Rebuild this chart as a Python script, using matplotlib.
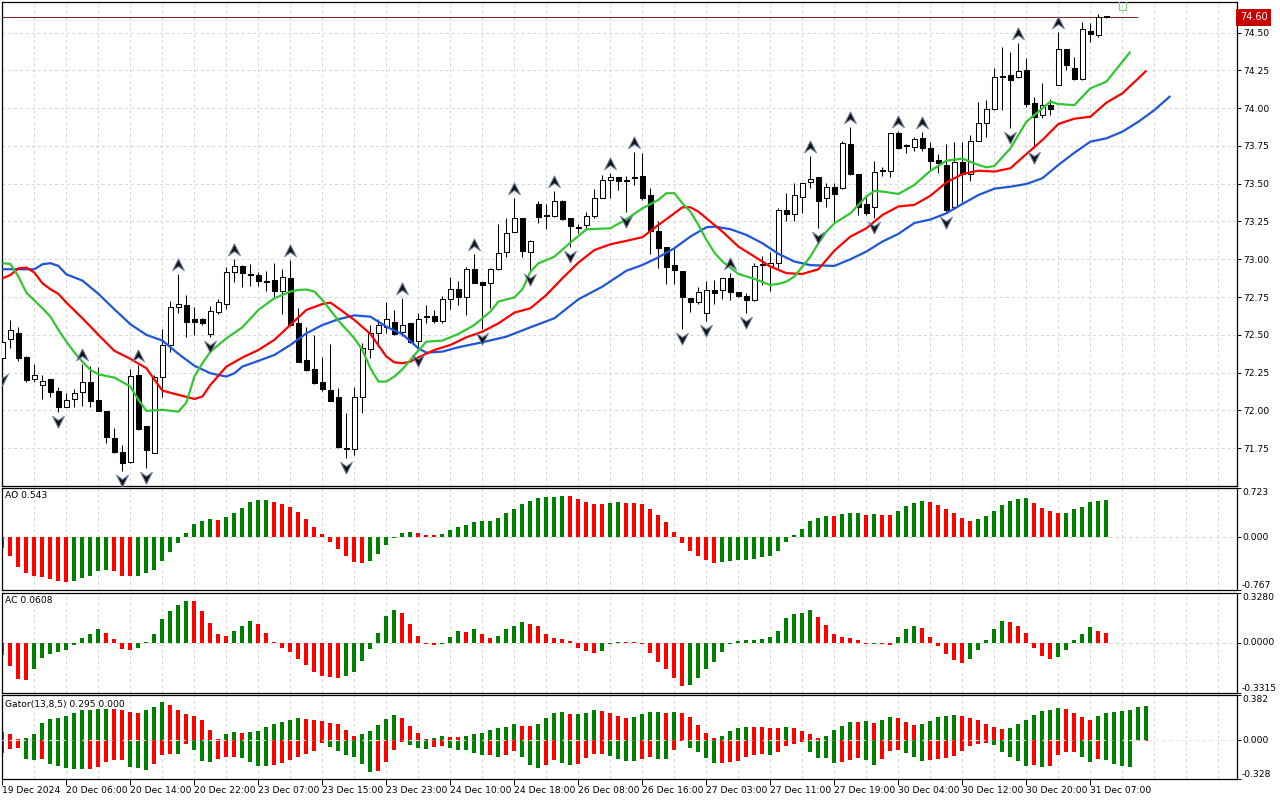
import matplotlib
matplotlib.use("Agg")
import matplotlib.pyplot as plt
import numpy as np
from matplotlib.path import Path
from matplotlib.patches import Rectangle
from matplotlib import transforms

plt.rcParams['font.family'] = ['DejaVu Sans']
plt.rcParams['font.size'] = 6.6

# ---- hourly candles, bar index 0..138 ----
opens = [72.35, 72.47, 72.51, 72.354, 72.206, 72.167, 72.209, 72.129, 72.023, 72.074,
         72.125, 72.19, 72.07, 71.997, 71.82, 71.726, 71.662, 72.233, 71.898, 71.721,
         72.224, 72.43, 72.683, 72.698, 72.603, 72.603, 72.503, 72.654, 72.705, 72.914,
         72.958, 72.90, 72.896, 72.853, 72.864, 72.793, 72.874, 72.577, 72.334, 72.273,
         72.191, 72.135, 72.091, 71.748, 71.743, 72.091, 72.407, 72.51, 72.555, 72.583,
         72.521, 72.576, 72.46, 72.618, 72.625, 72.592, 72.735, 72.801, 72.753, 72.934,
         72.85, 72.841, 72.934, 73.05, 73.183, 73.271, 73.05, 73.366, 73.287, 73.286,
         73.385, 73.275, 73.212, 73.227, 73.286, 73.407, 73.524, 73.542, 73.527, 73.54,
         73.551, 73.426, 73.188, 73.084, 72.963, 72.923, 72.742, 72.714, 72.643, 72.797,
         72.797, 72.874, 72.782, 72.758, 72.731, 72.96, 72.958, 72.978, 73.327, 73.30,
         73.41, 73.508, 73.543, 73.404, 73.481, 73.47, 73.763, 73.565, 73.364, 73.349,
         73.585, 73.587, 73.838, 73.752, 73.745, 73.805, 73.734, 73.657, 73.624, 73.348,
         73.641, 73.564, 73.782, 73.90, 73.992, 74.204, 74.219, 74.204, 74.252, 74.032,
         73.954, 74.021, 74.153, 74.389, 74.268, 74.19, 74.51, 74.483, 74.60]
highs = [72.50, 72.60, 72.55, 72.36, 72.306, 72.233, 72.21, 72.158, 72.114, 72.14,
         72.31, 72.295, 72.29, 71.997, 71.882, 71.772, 72.272, 72.30, 71.90, 72.235,
         72.539, 72.724, 72.903, 72.764, 72.687, 72.614, 72.69, 72.736, 72.947, 73.0,
         72.96, 72.967, 72.918, 72.92, 72.974, 72.934, 72.995, 72.676, 72.55, 72.50,
         72.351, 72.44, 72.151, 71.981, 72.158, 72.444, 72.565, 72.603, 72.72, 72.665,
         72.742, 72.581, 72.643, 72.698, 72.665, 72.757, 72.881, 72.859, 72.947, 73.035,
         72.852, 72.94, 73.231, 73.271, 73.403, 73.275, 73.125, 73.388, 73.366, 73.452,
         73.392, 73.275, 73.231, 73.315, 73.463, 73.555, 73.57, 73.545, 73.551, 73.712,
         73.701, 73.47, 73.256, 73.084, 73.084, 72.925, 72.745, 72.815, 72.859, 72.864,
         72.875, 72.907, 72.785, 72.775, 72.974, 73.022, 73.051, 73.338, 73.437, 73.503,
         73.503, 73.684, 73.547, 73.507, 73.507, 73.783, 73.878, 73.565, 73.41, 73.653,
         73.613, 73.835, 73.85, 73.761, 73.807, 73.84, 73.778, 73.696, 73.763, 73.778,
         73.778, 73.822, 74.042, 74.054, 74.263, 74.402, 74.373, 74.428, 74.329, 74.076,
         74.168, 74.058, 74.506, 74.39, 74.34, 74.572, 74.561, 74.622, 74.605]
lows = [72.27, 72.41, 72.33, 72.19, 72.19, 72.074, 72.09, 71.99, 72.02, 72.02,
        72.03, 72.025, 71.995, 71.783, 71.72, 71.60, 71.65, 71.87, 71.62, 71.72,
        72.092, 72.385, 72.643, 72.484, 72.50, 72.566, 72.488, 72.638, 72.672, 72.852,
        72.815, 72.82, 72.824, 72.79, 72.753, 72.636, 72.56, 72.32, 72.26, 72.175,
        72.131, 72.06, 71.75, 71.683, 71.705, 71.981, 72.35, 72.418, 72.51, 72.50,
        72.493, 72.444, 72.39, 72.576, 72.576, 72.58, 72.669, 72.698, 72.631, 72.84,
        72.537, 72.676, 72.93, 73.017, 73.18, 73.013, 72.929, 73.242, 73.20, 73.28,
        73.26, 73.079, 73.176, 73.194, 73.27, 73.405, 73.407, 73.458, 73.315, 73.49,
        73.393, 73.036, 72.941, 72.835, 72.835, 72.537, 72.654, 72.705, 72.59, 72.703,
        72.736, 72.731, 72.753, 72.643, 72.725, 72.83, 72.793, 72.94, 73.256, 73.256,
        73.305, 73.47, 73.205, 73.344, 73.249, 73.465, 73.56, 73.293, 73.293, 73.27,
        73.551, 73.547, 73.728, 73.701, 73.719, 73.719, 73.591, 73.573, 73.304, 73.33,
        73.381, 73.52, 73.78, 73.811, 73.99, 73.988, 73.866, 74.20, 74.01, 73.734,
        73.932, 73.954, 74.15, 74.252, 74.186, 74.186, 74.44, 74.468, 74.595]
closes = [72.45, 72.53, 72.35, 72.202, 72.233, 72.195, 72.125, 72.023, 72.07, 72.114,
          72.187, 72.065, 71.999, 71.823, 71.724, 71.655, 72.228, 71.878, 71.735, 72.224,
          72.434, 72.683, 72.702, 72.583, 72.585, 72.577, 72.658, 72.716, 72.914, 72.956,
          72.912, 72.895, 72.859, 72.851, 72.793, 72.881, 72.566, 72.323, 72.268, 72.184,
          72.14, 72.065, 71.756, 71.742, 72.087, 72.411, 72.51, 72.565, 72.603, 72.506,
          72.565, 72.451, 72.603, 72.622, 72.594, 72.735, 72.801, 72.753, 72.934, 72.841,
          72.83, 72.934, 73.039, 73.172, 73.271, 73.057, 73.123, 73.282, 73.285, 73.385,
          73.266, 73.222, 73.21, 73.286, 73.403, 73.524, 73.542, 73.52, 73.52, 73.546,
          73.408, 73.19, 73.077, 72.952, 72.93, 72.753, 72.714, 72.782, 72.797, 72.775,
          72.874, 72.786, 72.76, 72.731, 72.958, 72.97, 72.978, 73.327, 73.30, 73.423,
          73.503, 73.53, 73.388, 73.481, 73.43, 73.772, 73.565, 73.349, 73.305, 73.58,
          73.59, 73.833, 73.734, 73.75, 73.794, 73.734, 73.653, 73.635, 73.326, 73.641,
          73.564, 73.782, 73.899, 73.992, 74.204, 74.205, 74.186, 74.245, 74.027, 73.943,
          74.021, 73.992, 74.389, 74.285, 74.19, 74.521, 74.49, 74.605, 74.60]

fractal_up = [10, 17, 22, 29, 36, 50, 59, 64, 69, 76, 79, 91, 101, 106, 112, 115, 127, 132]
fractal_down = [0, 7, 15, 18, 26, 43, 52, 60, 66, 71, 78, 85, 88, 93, 102, 109, 118, 126, 129]

# ---- Alligator lines (read at these bar positions) ----
jaw_k = [0, 4, 5, 6, 7, 8, 10, 12, 14, 16, 18, 20, 22, 24, 26, 28, 29, 30, 32, 34, 36, 38,
         40, 42, 44, 46, 48, 50, 52, 53, 55, 57, 60, 63, 66, 69, 72, 75, 78, 80, 82, 84, 86,
         88, 89, 91, 93, 95, 97, 99, 101, 104, 106, 108, 110, 112, 114, 116, 118, 120, 122,
         124, 126, 128, 130, 132, 134, 136, 138, 140, 142, 144, 146]
jaw_p = [72.934, 72.934, 72.967, 72.974, 72.956, 72.90, 72.859, 72.771, 72.669, 72.57, 72.50,
         72.462, 72.374, 72.295, 72.246, 72.224, 72.246, 72.29, 72.328, 72.367, 72.433, 72.51,
         72.565, 72.603, 72.629, 72.62, 72.554, 72.504, 72.411, 72.382, 72.389, 72.418, 72.451,
         72.488, 72.55, 72.61, 72.735, 72.819, 72.924, 72.962, 73.013, 73.073, 73.15, 73.212,
         73.216, 73.199, 73.161, 73.106, 73.036, 72.985, 72.961, 72.956, 73.0, 73.051, 73.117,
         73.168, 73.24, 73.263, 73.304, 73.366, 73.425, 73.467, 73.48, 73.498, 73.536, 73.624,
         73.705, 73.778, 73.80, 73.844, 73.91, 73.987, 74.08]
teeth_k = [0, 1, 2, 3, 4, 5, 6, 7, 8, 10, 12, 14, 16, 18, 20, 22, 24, 25, 26, 28, 30, 32, 34,
           36, 38, 40, 41, 42, 44, 46, 48, 49, 50, 51, 52, 54, 56, 58, 60, 62, 64, 66, 68, 70,
           72, 74, 76, 78, 80, 82, 84, 85, 86, 87, 88, 90, 92, 94, 96, 98, 100, 102, 104, 106,
           108, 110, 112, 114, 116, 118, 120, 122, 124, 126, 128, 130, 132, 134, 136, 138, 140,
           142, 143]
teeth_p = [72.874, 72.896, 72.94, 72.945, 72.912, 72.841, 72.802, 72.771, 72.713, 72.61, 72.50,
           72.394, 72.341, 72.279, 72.131, 72.103, 72.076, 72.092, 72.169, 72.29, 72.35, 72.40,
           72.467, 72.566, 72.665, 72.704, 72.713, 72.676, 72.598, 72.506, 72.356, 72.318,
           72.312, 72.323, 72.351, 72.40, 72.433, 72.484, 72.521, 72.576, 72.647, 72.676,
           72.764, 72.874, 72.978, 73.061, 73.099, 73.122, 73.146, 73.227, 73.304, 73.344,
           73.344, 73.315, 73.271, 73.183, 73.084, 73.018, 72.952, 72.908, 72.903, 72.934,
           73.057, 73.15, 73.205, 73.293, 73.349, 73.36, 73.42, 73.508, 73.564, 73.586, 73.58,
           73.602, 73.696, 73.789, 73.895, 73.93, 73.943, 74.036, 74.098, 74.197, 74.248]
lips_k = [0, 1, 2, 3, 4, 5, 6, 7, 8, 9, 10, 11, 12, 14, 16, 17, 18, 20, 22, 23, 24, 25, 26,
          28, 30, 32, 34, 36, 37, 38, 39, 40, 42, 44, 45, 46, 47, 48, 49, 50, 52, 53, 55, 57,
          59, 61, 62, 64, 65, 66, 67, 69, 71, 73, 76, 78, 80, 82, 83, 84, 85, 86, 87, 88, 89,
          90, 92, 94, 96, 97, 98, 99, 100, 101, 102, 103, 104, 106, 108, 109, 110, 112, 114,
          116, 118, 120, 122, 123, 124, 126, 128, 130, 131, 132, 134, 136, 138, 140, 141]
lips_p = [72.974, 72.969, 72.885, 72.779, 72.727, 72.676, 72.621, 72.533, 72.455, 72.383,
          72.323, 72.268, 72.239, 72.217, 72.158, 72.07, 71.997, 72.004, 71.992, 72.052,
          72.224, 72.312, 72.389, 72.477, 72.55, 72.665, 72.742, 72.786, 72.797, 72.80,
          72.786, 72.731, 72.594, 72.477, 72.40, 72.279, 72.191, 72.191, 72.224, 72.272,
          72.396, 72.455, 72.462, 72.506, 72.565, 72.654, 72.72, 72.748, 72.801, 72.918,
          72.973, 73.017, 73.11, 73.198, 73.205, 73.265, 73.337, 73.393, 73.437, 73.437,
          73.37, 73.315, 73.227, 73.128, 73.044, 72.985, 72.903, 72.87, 72.83, 72.837,
          72.852, 72.886, 72.952, 73.018, 73.106, 73.183, 73.238, 73.304, 73.415, 73.452,
          73.448, 73.432, 73.492, 73.585, 73.652, 73.666, 73.624, 73.608, 73.617, 73.734,
          73.91, 73.998, 74.043, 74.027, 74.02, 74.131, 74.175, 74.307, 74.373]

# ---- Awesome Oscillator ----
ao = [-0.16, -0.27, -0.43, -0.53, -0.56, -0.58, -0.61, -0.645, -0.652, -0.645,
      -0.59, -0.56, -0.50, -0.48, -0.50, -0.56, -0.57, -0.56, -0.53, -0.48,
      -0.355, -0.217, -0.084, 0.06, 0.19, 0.24, 0.266, 0.25, 0.296, 0.355,
      0.43, 0.51, 0.547, 0.55, 0.52, 0.49, 0.443, 0.37, 0.266, 0.148,
      0.044, -0.069, -0.17, -0.28, -0.36, -0.38, -0.35, -0.246, -0.118, -0.01,
      0.06, 0.074, 0.06, 0.03, 0.028, 0.044, 0.108, 0.148, 0.177, 0.22,
      0.236, 0.238, 0.28, 0.355, 0.414, 0.49, 0.53, 0.576, 0.58, 0.59,
      0.606, 0.604, 0.56, 0.517, 0.49, 0.488, 0.50, 0.517, 0.505, 0.50,
      0.49, 0.414, 0.325, 0.22, 0.074, -0.084, -0.2, -0.276, -0.335, -0.38,
      -0.365, -0.35, -0.335, -0.333, -0.32, -0.29, -0.276, -0.2, -0.069, 0.03,
      0.118, 0.236, 0.28, 0.312, 0.308, 0.34, 0.355, 0.36, 0.325, 0.34,
      0.33, 0.322, 0.384, 0.458, 0.50, 0.53, 0.517, 0.473, 0.414, 0.355,
      0.28, 0.236, 0.266, 0.31, 0.384, 0.473, 0.53, 0.56, 0.576, 0.50,
      0.43, 0.384, 0.355, 0.357, 0.414, 0.443, 0.517, 0.53, 0.543]

# ---- Accelerator Oscillator ----
ac = [-0.083, -0.152, -0.24, -0.246, -0.172, -0.098, -0.072, -0.063, -0.045, -0.016,
      0.034, 0.06, 0.087, 0.067, 0.027, -0.04, -0.047, -0.034, 0.007, 0.06,
      0.154, 0.208, 0.248, 0.275, 0.272, 0.208, 0.128, 0.054, 0.047, 0.074,
      0.107, 0.141, 0.121, 0.067, 0.007, -0.034, -0.06, -0.107, -0.148, -0.195,
      -0.215, -0.226, -0.228, -0.221, -0.195, -0.121, -0.04, 0.067, 0.174, 0.215,
      0.195, 0.121, 0.047, -0.005, -0.018, -0.004, 0.04, 0.074, 0.073, 0.087,
      0.06, 0.034, 0.047, 0.087, 0.107, 0.134, 0.121, 0.107, 0.06, 0.034,
      0.027, 0.013, -0.034, -0.054, -0.067, -0.054, -0.011, 0.007, 0.006, 0.005,
      -0.011, -0.067, -0.128, -0.174, -0.228, -0.282, -0.275, -0.228, -0.174, -0.128,
      -0.06, -0.002, 0.013, 0.02, 0.021, 0.027, 0.04, 0.08, 0.161, 0.188,
      0.195, 0.215, 0.168, 0.114, 0.06, 0.04, 0.034, 0.02, -0.005, -0.002,
      -0.007, -0.016, 0.04, 0.087, 0.107, 0.094, 0.04, -0.02, -0.076, -0.114,
      -0.134, -0.107, -0.047, 0.02, 0.087, 0.141, 0.134, 0.107, 0.067, -0.034,
      -0.087, -0.107, -0.094, -0.047, 0.02, 0.06, 0.1, 0.08, 0.0608]

# ---- Gator oscillator (13,8,5): upper and lower magnitudes, bar index 0..143 ----
gator_up = [0.071, 0.054, 0.011, 0.02, 0.054, 0.147, 0.181, 0.19, 0.207, 0.232,
            0.256, 0.26, 0.262, 0.265, 0.262, 0.258, 0.241, 0.232, 0.258, 0.283,
            0.326, 0.30, 0.258, 0.224, 0.207, 0.173, 0.088, 0.011, 0.054, 0.071,
            0.062, 0.072, 0.079, 0.113, 0.139, 0.156, 0.173, 0.19, 0.181, 0.173,
            0.164, 0.147, 0.139, 0.088, 0.037, 0.054, 0.079, 0.13, 0.181, 0.215,
            0.19, 0.122, 0.062, 0.003, 0.02, 0.037, 0.028, 0.027, 0.037, 0.054,
            0.062, 0.088, 0.105, 0.113, 0.139, 0.122, 0.121, 0.139, 0.19, 0.232,
            0.241, 0.224, 0.225, 0.232, 0.258, 0.249, 0.232, 0.207, 0.19, 0.198,
            0.224, 0.241, 0.242, 0.232, 0.241, 0.232, 0.198, 0.13, 0.062, 0.02,
            0.037, 0.079, 0.105, 0.113, 0.112, 0.111, 0.105, 0.104, 0.113, 0.105,
            0.079, 0.054, 0.02, 0.037, 0.088, 0.122, 0.156, 0.155, 0.164, 0.147,
            0.173, 0.198, 0.19, 0.156, 0.13, 0.139, 0.164, 0.198, 0.207, 0.215,
            0.207, 0.19, 0.173, 0.139, 0.113, 0.096, 0.105, 0.139, 0.173, 0.215,
            0.249, 0.258, 0.275, 0.266, 0.232, 0.198, 0.173, 0.207, 0.232, 0.241,
            0.249, 0.258, 0.283, 0.295]
gator_down = [0.105, 0.071, 0.062, 0.156, 0.164, 0.156, 0.198, 0.215, 0.232, 0.238,
              0.242, 0.240, 0.224, 0.181, 0.164, 0.162, 0.224, 0.232, 0.249, 0.198,
              0.122, 0.113, 0.115, 0.028, 0.079, 0.173, 0.181, 0.156, 0.139, 0.138,
              0.147, 0.181, 0.215, 0.216, 0.207, 0.19, 0.164, 0.139, 0.113, 0.088,
              0.02, 0.054, 0.088, 0.122, 0.139, 0.198, 0.266, 0.258, 0.181, 0.079,
              0.015, 0.037, 0.062, 0.071, 0.054, 0.045, 0.062, 0.079, 0.08, 0.105,
              0.122, 0.12, 0.139, 0.122, 0.088, 0.139, 0.207, 0.232, 0.207, 0.164,
              0.19, 0.207, 0.198, 0.147, 0.113, 0.112, 0.13, 0.156, 0.173, 0.174,
              0.156, 0.139, 0.156, 0.157, 0.079, 0.006, 0.062, 0.096, 0.147, 0.19,
              0.189, 0.181, 0.173, 0.139, 0.122, 0.113, 0.122, 0.096, 0.045, 0.028,
              0.011, 0.096, 0.147, 0.148, 0.19, 0.184, 0.167, 0.15, 0.168, 0.21,
              0.159, 0.091, 0.082, 0.108, 0.142, 0.176, 0.167, 0.159, 0.15, 0.133,
              0.091, 0.048, 0.031, 0.023, 0.04, 0.099, 0.142, 0.176, 0.218, 0.21,
              0.227, 0.218, 0.125, 0.099, 0.098, 0.142, 0.184, 0.159, 0.167, 0.201,
              0.218, 0.227, 0.003, 0.0]

time_labels = ["19 Dec 2024", "20 Dec 06:00", "20 Dec 14:00", "20 Dec 22:00",
               "23 Dec 07:00", "23 Dec 15:00", "23 Dec 23:00", "24 Dec 10:00",
               "24 Dec 18:00", "26 Dec 08:00", "26 Dec 16:00", "27 Dec 03:00",
               "27 Dec 11:00", "27 Dec 19:00", "30 Dec 04:00", "30 Dec 12:00",
               "30 Dec 20:00", "31 Dec 07:00"]
price_ticks = [71.75, 72.00, 72.25, 72.50, 72.75, 73.00, 73.25, 73.50, 73.75, 74.00, 74.25, 74.50]

GREEN = '#008000'
RED = '#ff0000'
GRID = '#d6d6d6'


def bar_colors(vals, first):
    cols = [first]
    for a, b in zip(vals[:-1], vals[1:]):
        cols.append(GREEN if b > a else RED)
    return cols


fig = plt.figure(figsize=(12.8, 8), dpi=100)
L, W = 2 / 1280, 1235 / 1280
ax = fig.add_axes([L, 0.3925, W, 0.6054])
ax_ao = fig.add_axes([L, 0.26288, W, 0.1275])
ax_ac = fig.add_axes([L, 0.13338, W, 0.12575])
ax_g = fig.add_axes([L, 0.025875, W, 0.105])
xmax = 1235 / 8 - 0.05

for a in (ax, ax_ao, ax_ac, ax_g):
    a.set_xlim(-0.05, xmax)
    for s in a.spines.values():
        s.set_color('black')
        s.set_linewidth(0.9)
    for k in range(4, 156, 4):
        a.axvline(k, color=GRID, lw=0.7, ls=(0, (3, 3)), zorder=0)
    a.tick_params(axis='x', bottom=False, labelbottom=False)
    a.tick_params(axis='y', left=False, labelleft=False, right=True, labelright=False,
                  direction='out', length=3, width=0.7)

# ---- main price panel ----
ax.set_ylim(71.50, 74.704)
for p in price_ticks:
    ax.axhline(p, color=GRID, lw=0.7, ls=(0, (3, 3)), zorder=0)
ax.set_yticks(price_ticks)
ax.set_yticklabels([f"{p:.2f}" for p in price_ticks])
ax.tick_params(axis='y', labelright=True, pad=1.5, labelsize=6.6)

o = np.array(opens); h = np.array(highs); lo = np.array(lows); c = np.array(closes)
idx = np.arange(len(o))
ax.vlines(idx, lo, h, color='black', lw=0.75, zorder=3)
one_px = (74.704 - 71.50) / 484.3
body_h = np.maximum(np.abs(c - o), one_px)
body_b = np.minimum(o, c)
face = ['white' if cc > oo else 'black' for oo, cc in zip(o, c)]
ax.bar(idx, body_h, bottom=body_b, width=0.55, color=face, edgecolor='black',
       linewidth=0.75, zorder=4)

ax.plot(jaw_k, jaw_p, color='#1f55d9', lw=1.6, zorder=5, solid_capstyle='butt')
ax.plot(teeth_k, teeth_p, color='#ff0000', lw=1.6, zorder=5, solid_capstyle='butt')
ax.plot(lips_k, lips_p, color='#33c633', lw=1.6, zorder=5, solid_capstyle='butt')

# fractal arrows
up_path = Path([(0, 1), (0.9, -0.8), (0, -0.15), (-0.9, -0.8), (0, 1)],
               [Path.MOVETO, Path.LINETO, Path.LINETO, Path.LINETO, Path.CLOSEPOLY])
dn_path = Path([(0, -1), (0.9, 0.8), (0, 0.15), (-0.9, 0.8), (0, -1)],
               [Path.MOVETO, Path.LINETO, Path.LINETO, Path.LINETO, Path.CLOSEPOLY])
up_tr = transforms.offset_copy(ax.transData, fig=fig, x=0, y=9, units='dots')
dn_tr = transforms.offset_copy(ax.transData, fig=fig, x=0, y=-9, units='dots')
ax.plot(fractal_up, [highs[k] for k in fractal_up], ls='none', marker=up_path, ms=9.5,
        mfc='#151515', mec='#6f82a4', mew=0.7, transform=up_tr, zorder=6)
ax.plot(fractal_down, [lows[k] for k in fractal_down], ls='none', marker=dn_path, ms=9.5,
        mfc='#151515', mec='#6f82a4', mew=0.7, transform=dn_tr, zorder=6)

# current price line and tag
last = closes[-1]
ax.hlines(last, -1, 141.9, color='#8c1c1c', lw=0.7, zorder=2)
tag_tr = transforms.blended_transform_factory(ax.transAxes, ax.transData)
ax.text(1.0022, last, f"{last:.2f}", transform=tag_tr, color='white', fontsize=7,
        va='center', ha='left', clip_on=False,
        bbox=dict(boxstyle='square,pad=0.35', fc='#c80000', ec='none'))
ax.add_patch(Rectangle((139.6, 74.648), 0.9, 0.08, fill=False, ec='#77dd77', lw=0.9, zorder=6))


# ---- indicator panels ----
def histogram(a, vals, ylo, yhi, height_px, first):
    a.set_ylim(ylo, yhi)
    v = np.array(vals)
    minh = (yhi - ylo) / height_px
    hgt = np.where(v < 0, -1, 1) * np.maximum(np.abs(v), minh)
    a.bar(np.arange(len(v)), hgt, width=0.5, color=bar_colors(vals, first), linewidth=0, zorder=2)
    a.axhline(0, color=GRID, lw=0.8, ls=(0, (3, 3)), zorder=1)


def right_labels(a, ylo, yhi, fmt):
    a.set_yticks([ylo, 0, yhi])
    tr = transforms.blended_transform_factory(a.transAxes, a.transData)
    a.text(1.004, yhi, fmt.format(yhi), transform=tr, ha='left', va='top', clip_on=False)
    a.text(1.004, 0, fmt.format(0), transform=tr, ha='left', va='center', clip_on=False)
    a.text(1.004, ylo, fmt.format(ylo), transform=tr, ha='left', va='bottom', clip_on=False)


histogram(ax_ao, ao, -0.767, 0.723, 102, RED)
right_labels(ax_ao, -0.767, 0.723, "{:.3f}")
ax_ao.text(0.0025, 1 - 8 / 102, f"AO {ao[-1]:.3f}", transform=ax_ao.transAxes, va='center', ha='left')

histogram(ax_ac, ac, -0.3315, 0.328, 100.6, RED)
right_labels(ax_ac, -0.3315, 0.328, "{:.4f}")
ax_ac.text(0.0025, 1 - 8.3 / 100.6, f"AC {ac[-1]:.4f}", transform=ax_ac.transAxes, va='center', ha='left')

ax_g.set_ylim(-0.328, 0.382)
gu = np.array(gator_up)
gd = np.array(gator_down)
gmin = (0.382 + 0.328) / 84
ax_g.bar(np.arange(len(gu)), np.maximum(gu, gmin), width=0.5,
         color=bar_colors(gator_up, GREEN), linewidth=0, zorder=2)
ax_g.bar(np.arange(len(gd)), -np.maximum(gd, gmin), width=0.5,
         color=bar_colors(gator_down, GREEN), linewidth=0, zorder=2)
ax_g.axhline(0, color='#e4e4e4', lw=0.8, ls=(0, (3, 3)), zorder=3)
right_labels(ax_g, -0.328, 0.382, "{:.3f}")
ax_g.text(0.0025, 1 - 8.7 / 84, f"Gator(13,8,5) {gator_up[-1]:.3f} {gator_down[-1]:.3f}",
          transform=ax_g.transAxes, va='center', ha='left')

ax_g.set_xticks(np.arange(0, 8 * len(time_labels), 8))
ax_g.set_xticklabels(time_labels, ha='left')
ax_g.tick_params(axis='x', bottom=True, labelbottom=True, direction='out', length=4,
                 width=0.7, pad=1, labelsize=6.6)

fig.savefig('out.png', dpi=100, facecolor='white')
